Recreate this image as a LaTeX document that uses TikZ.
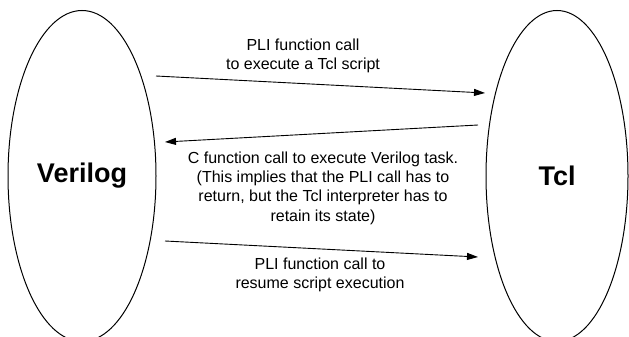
\documentclass[tikz,border=0pt]{standalone}
\usepackage{fontspec}
\setmainfont{Liberation Sans}
\usetikzlibrary{arrows.meta,positioning,shapes.geometric}
\tikzset{
  party/.style={ellipse,draw=black,line width=1pt,minimum width=148pt,minimum height=331pt,inner sep=0pt,font=\fontsize{27}{30}\selectfont\bfseries},
  msg/.style={align=center,font=\fontsize{16}{19.4}\selectfont},
  arrow/.style={-{Triangle[length=11pt,width=7pt]},line width=0.9pt,draw=black}
}

\begin{document}
\begin{tikzpicture}[x=1pt,y=-1pt]
  \useasboundingbox (0,0) rectangle (629,337);
  \clip (0,0) rectangle (629,337);
  \node[party] (verilog) at (82,176) {Verilog};
  \node[party, minimum width=142pt] (tcl) at (557,176) {Tcl};
  % end points of the calls
  \coordinate (v1) at (156,76);
  \coordinate (t1) at (485,93);
  \coordinate (t2) at (478,125);
  \coordinate (v2) at (165,142);
  \coordinate (v3) at (165,241);
  \coordinate (t3) at (478,257);
  \draw[arrow] (v1) -- (t1);
  \draw[arrow] (t2) -- (v2);
  \draw[arrow] (v3) -- (t3);
  \node[msg] (callone) at (303,56) {PLI function call\\to execute a Tcl script};
  \node[msg] (calltwo) at (323,188) {C function call to execute Verilog task.\\(This implies that the PLI call has to\\return, but the Tcl interpreter has to\\retain its state)};
  \node[msg] (callthree) at (320,275) {PLI function call to\\resume script execution};
\end{tikzpicture}
\end{document}
